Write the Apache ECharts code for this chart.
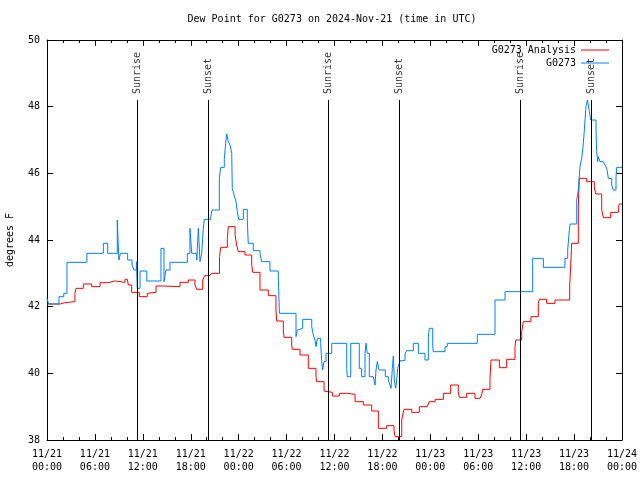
<!DOCTYPE html>
<html>
<head>
<meta charset="utf-8">
<script src="https://cdn.jsdelivr.net/npm/echarts@6/dist/echarts.min.js"></script>
<style>html,body{margin:0;padding:0;background:#fff}#c{width:640px;height:480px}</style>
</head>
<body>
<div id="c"></div>
<script>
// ---- data (time in hours since 2024-11-21 00:00 UTC) ----
const X_TICK_LABELS = ['11/21\n00:00','11/21\n06:00','11/21\n12:00','11/21\n18:00','11/22\n00:00','11/22\n06:00','11/22\n12:00','11/22\n18:00','11/23\n00:00','11/23\n06:00','11/23\n12:00','11/23\n18:00','11/24\n00:00'];
const SERIES_NAMES = ['G0273 Analysis', 'G0273'];
const SUN_EVENT_HOURS = [11.3, 20.2, 35.23, 44.12, 59.23, 68.2];
const SUN_EVENT_NAMES = ['Sunrise','Sunset','Sunrise','Sunset','Sunrise','Sunset'];

const ANALYSIS_HOURS = [0,1.63,2.25,3.5,3.63,4.55,5.6,6.64,7.68,8.5,9.77,10.06,10.18,10.6,11.56,12.56,12.69,13.65,14.56,16.65,17.7,18.53,18.74,19.5,19.75,20.4,20.62,21.6,21.75,22.58,22.7,23.55,23.75,23.95,24.79,25.63,25.76,26.67,27.71,28.67,28.76,29.59,29.68,30.64,30.72,31.68,32.72,33.68,33.77,34.69,34.81,35.73,36.6,37.53,38.57,39.61,40.66,41.49,42.54,43.45,43.58,44.42,44.54,44.7,45.67,46.62,47.62,47.87,48.6,49.63,50.55,51.5,51.63,52.55,53.59,54.22,54.43,54.55,55.47,55.6,56.64,57.56,58.6,58.69,59.44,59.64,60.6,61.52,61.65,62.57,63.61,65.45,65.55,65.7,66.53,66.65,67.58,68.53,68.7,69.46,69.66,70.59,71.54,71.66,72];
const ANALYSIS_VALUES = [42.08,42.12,42.15,42.4,42.55,42.68,42.6,42.72,42.77,42.73,42.82,42.8,42.65,42.43,42.3,42.4,42.43,42.62,42.6,42.73,42.8,42.65,42.52,42.8,42.93,42.95,43.0,43.5,43.78,44.05,44.4,44.15,43.85,43.65,43.55,43.25,43.03,42.5,42.33,41.9,41.57,41.3,41.08,40.85,40.72,40.55,40.15,39.9,39.75,39.47,39.43,39.32,39.4,39.37,39.15,39.05,38.87,38.35,38.43,38.3,38.1,38.6,38.75,38.92,38.83,39.0,39.05,39.15,39.22,39.4,39.65,39.45,39.28,39.4,39.25,39.2,39.35,39.52,39.85,40.4,40.17,40.42,40.8,41.0,41.25,41.55,41.7,42.1,42.22,42.1,42.2,42.65,43.1,43.9,45.0,45.85,45.75,45.6,45.38,44.9,44.67,44.83,44.97,45.08,45.08];

const STATION_HOURS = [0,0.2,1.5,2.1,2.5,5.0,7.05,7.6,8.8,9.0,9.2,10.1,10.65,10.9,11.2,11.3,11.65,12.5,14.27,14.65,14.9,15.4,17.57,17.9,18.12,18.75,18.95,19.16,19.37,19.57,19.7,20.5,20.66,21.58,21.75,22.2,22.37,22.5,22.7,22.92,23.13,23.2,23.42,23.67,23.83,24.0,24.58,25.08,25.2,25.83,26.67,26.88,27.92,28.96,29.1,31.18,31.34,31.47,32.02,33.15,33.35,33.56,33.68,33.85,34.27,34.4,34.52,34.68,34.94,35.65,37.53,37.6,38.03,39.1,39.4,39.82,39.95,40.1,40.36,40.86,41.07,41.2,41.36,41.49,41.6,42.36,42.74,42.95,43.08,43.24,43.37,43.49,43.66,43.79,43.91,44.11,44.2,44.83,45.04,45.87,46.5,47.33,47.75,47.87,48.3,48.37,49.84,50.12,53.88,56.1,57.35,60.82,62.15,64.86,65.2,65.37,65.49,66.33,66.53,66.74,66.95,67.08,67.24,67.37,67.49,67.66,67.78,67.91,68.08,68.75,68.83,68.96,69.03,69.25,69.66,69.87,70.09,70.29,70.71,70.91,71.25,71.34,72];
const STATION_VALUES = [42.25,42.08,42.3,42.4,43.33,43.6,43.9,43.6,44.6,43.4,43.6,43.4,43.25,43.1,43.35,42.55,43.07,42.77,43.75,42.75,43.1,43.33,43.6,44.35,43.6,43.4,44.35,43.35,43.6,44.35,44.62,44.7,44.9,45.85,46.18,46.42,46.9,47.18,46.95,46.85,46.6,45.55,45.35,45.15,44.85,44.62,44.92,44.6,43.9,43.68,43.6,43.35,43.07,42.9,41.8,41.1,41.3,41.35,41.62,41.4,41.15,41.0,40.8,41.05,40.9,40.35,40.1,40.35,40.6,40.9,40.15,39.9,40.9,40.15,39.9,40.6,40.9,40.6,39.9,39.85,39.65,40.1,40.35,40.2,40.1,39.9,39.8,39.65,39.55,40.15,40.52,39.8,39.55,39.8,40.15,40.3,40.38,40.58,40.68,40.9,40.6,40.4,41.1,41.35,40.8,40.65,40.8,40.9,41.17,42.2,42.45,43.45,43.18,43.45,43.7,44.2,44.48,45.2,45.5,46.2,46.45,46.7,47.15,47.6,48.0,48.2,48.05,47.85,47.6,47.25,46.65,46.35,46.5,46.35,46.3,46.25,46.15,45.85,45.65,45.5,45.9,46.18,46.18];

// ---- layout/style constants ----
const FONT = 'DejaVu Sans Mono';
const Y_MIN = 38, Y_MAX = 50;
const SUN_LINE_TOP = 48.2;
const SUN_LABEL_Y = 48.38;

const zip = (xs, ys) => xs.map((x, i) => [x, ys[i]]);
const chart = echarts.init(document.getElementById('c'), null, {renderer: 'canvas'});

const axisCommon = {
  type: 'value', min: 0, max: 72, interval: 6,
  axisLine: {show: true, onZero: false, lineStyle: {color: '#000', width: 1}},
  axisTick: {show: true, inside: true, length: 6, lineStyle: {color: '#000'}},
  minorTick: {show: true, splitNumber: 3, length: 3, lineStyle: {color: '#000'}},
  splitLine: {show: false}, minorSplitLine: {show: false}
};
const yCommon = {
  type: 'value', min: Y_MIN, max: Y_MAX, interval: 2,
  axisLine: {show: true, onZero: false, lineStyle: {color: '#000', width: 1}},
  axisTick: {show: true, inside: true, length: 6, lineStyle: {color: '#000'}},
  splitLine: {show: false}
};

chart.setOption({
  animation: false,
  backgroundColor: '#fff',
  textStyle: {fontFamily: FONT, color: '#000'},
  title: {
    text: 'Dew Point for G0273 on 2024-Nov-21 (time in UTC)',
    left: 332, top: 14, textAlign: 'center', padding: 0,
    textStyle: {fontFamily: FONT, fontSize: 10, fontWeight: 'normal', color: '#000'}
  },
  legend: {
    orient: 'vertical', right: 31, top: 45, align: 'right', padding: 0,
    itemWidth: 28, itemHeight: 1, itemGap: 3, icon: 'rect',
    data: SERIES_NAMES,
    textStyle: {fontFamily: FONT, fontSize: 10, color: '#000', padding: 0}
  },
  grid: {left: 47, right: 18, top: 40, bottom: 40, containLabel: false, outerBoundsMode: 'none'},
  xAxis: [
    Object.assign({}, axisCommon, {
      position: 'bottom',
      axisLabel: {
        show: true, margin: 8, fontFamily: FONT, fontSize: 10, lineHeight: 13, color: '#000',
        formatter: v => X_TICK_LABELS[Math.round(v / 6)]
      }
    }),
    Object.assign({}, axisCommon, {position: 'top', axisLabel: {show: false}})
  ],
  yAxis: [
    Object.assign({}, yCommon, {
      position: 'left',
      name: 'degrees F', nameLocation: 'middle', nameGap: 32, nameRotate: 90,
      nameTextStyle: {fontFamily: FONT, fontSize: 10, color: '#000'},
      axisLabel: {show: true, margin: 7, fontFamily: FONT, fontSize: 10, color: '#000'}
    }),
    Object.assign({}, yCommon, {position: 'right', axisLabel: {show: false}})
  ],
  series: [
    {
      name: SERIES_NAMES[0], type: 'line', step: 'end', showSymbol: false,
      xAxisIndex: 0, yAxisIndex: 0,
      data: zip(ANALYSIS_HOURS, ANALYSIS_VALUES),
      itemStyle: {color: '#ff0000'}, lineStyle: {color: '#ff0000', width: 1}
    },
    {
      name: SERIES_NAMES[1], type: 'line', step: 'end', showSymbol: false,
      xAxisIndex: 0, yAxisIndex: 0,
      data: zip(STATION_HOURS, STATION_VALUES),
      itemStyle: {color: '#0080ff'}, lineStyle: {color: '#0080ff', width: 1}
    },
    {
      name: 'sun', type: 'scatter', symbolSize: 0, silent: true,
      xAxisIndex: 0, yAxisIndex: 0,
      data: SUN_EVENT_HOURS.map((h, i) => [h, SUN_LABEL_Y, SUN_EVENT_NAMES[i]]),
      label: {
        show: true, position: [0, 0], rotate: 90, align: 'left', verticalAlign: 'middle',
        fontFamily: FONT, fontSize: 10, color: '#000',
        formatter: p => p.value[2]
      },
      markLine: {
        silent: true, symbol: ['none', 'none'], animation: false,
        label: {show: false},
        lineStyle: {color: '#000', width: 1, type: 'solid'},
        emphasis: {disabled: true},
        data: SUN_EVENT_HOURS.map(h => [{coord: [h, Y_MIN]}, {coord: [h, SUN_LINE_TOP]}])
      }
    }
  ]
});
</script>
</body>
</html>
